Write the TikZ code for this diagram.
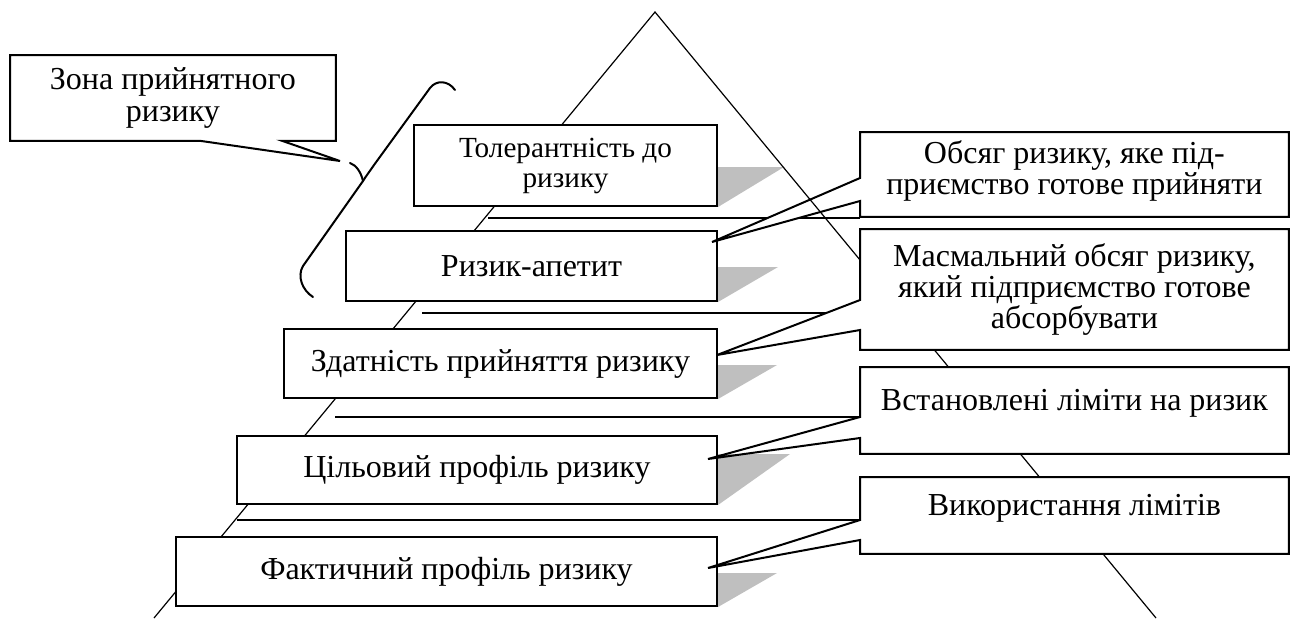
\documentclass[tikz,border=0pt]{standalone}
\usepackage{fontspec}
\setmainfont{Liberation Serif}
\usepackage{tikz}
\usetikzlibrary{calc}
\usetikzlibrary{backgrounds}
\usetikzlibrary{positioning}
\pgfdeclarelayer{lines}
\pgfdeclarelayer{pyramid}
\pgfsetlayers{lines,pyramid,main}

\begin{document}
\begin{tikzpicture}[x=0.5pt,y=-0.5pt]
    \tikzstyle{every node}=[font=\fontsize{16pt}{15.6pt}\selectfont,inner sep=0pt]
    \tikzstyle{lbox}=[draw=black,line width=1pt,fill=white,anchor=north west,align=center]
    \tikzstyle{rbox}=[fill=white,anchor=north west,align=center,minimum width=214pt]
    \tikzstyle{callout}=[draw=black,line width=1pt]
    \tikzstyle{level}=[draw=black,line width=0.8pt]
    \tikzstyle{edge}=[draw=black,line width=0.6pt]
    \tikzstyle{bracket}=[draw=black,line width=1pt,line cap=round]

    \useasboundingbox (0,0) rectangle (1295,618);

    \node[lbox,minimum width=151.5pt,minimum height=40.5pt,font=\fontsize{14.6pt}{15pt}\selectfont] (toler) at (413,124) {Толерантність до\\ризику};
    \node[lbox,minimum width=185.5pt,minimum height=35pt] (appetite) at (345,230) {Ризик-апетит};
    \node[lbox,minimum width=216.5pt,minimum height=34.5pt] (capacity) at (283,328) {Здатність прийняття ризику};
    \node[lbox,minimum width=240pt,minimum height=34pt] (target) at (236,435) {Цільовий профіль ризику};
    \node[lbox,minimum width=270.5pt,minimum height=34.5pt] (actual) at (175,536) {Фактичний профіль ризику};

    \node[rbox,minimum height=42pt,text height=30pt,text depth=10pt] (taken) at (860,132) {Обсяг ризику, яке під-\\приємство готове прийняти};
    \node[rbox,minimum height=60pt] (absorb) at (860,229) {Масмальний обсяг ризику,\\який підприємство готове\\абсорбувати};
    \node[rbox,minimum height=43pt,text height=8pt,text depth=8pt] (limits) at (860,367) {Встановлені ліміти на ризик};
    \node[rbox,minimum height=38pt,text height=8pt,text depth=8pt] (usage) at (860,477) {Використання лімітів};
    \node[rbox,minimum width=162.5pt,minimum height=42.5pt] (zone) at (10,55) {Зона прийнятного\\ризику};

    \coordinate (apex) at (655,12);
    \coordinate (tipT) at (712,242);
    \coordinate (tipA) at (717,355);
    \coordinate (tipL) at (708,459);
    \coordinate (tipU) at (708,568);
    \coordinate (tipZ) at (340,161);
    \coordinate (braceHi) at (455,90);
    \coordinate (braceMid) at (363,181);
    \coordinate (braceTip) at (350,163);
    \coordinate (braceLo) at (313,297);

    \newcommand{\boxshade}[3]{%
      \fill[black!25] (#1.south east) -- ++(0,-#2) -- ++(#3,0) -- cycle;}
    \newcommand{\rcallout}[4]{%
      \begin{pgfonlayer}{lines}
        \fill[white] (#1.west |- 0,#2) -- (#4) -- (#1.west |- 0,#3) -- cycle;
      \end{pgfonlayer}
      \draw[callout] (#1.west |- 0,#3) -- (#1.south west) -- (#1.south east) -- (#1.north east)
                     -- (#1.north west) -- (#1.west |- 0,#2) -- (#4) -- cycle;}

    \begin{pgfonlayer}{lines}
      \draw[level] (488,218) -- (taken.west |- 0,218);
      \draw[level] (422,313) -- (absorb.west |- 0,313);
      \draw[level] (335,417) -- (limits.west |- 0,417);
      \draw[level] (237,520) -- (usage.west |- 0,520);
    \end{pgfonlayer}

    \begin{pgfonlayer}{pyramid}
      \boxshade{toler}{40}{66}
      \boxshade{appetite}{35}{60}
      \boxshade{capacity}{34}{59}
      \boxshade{target}{51}{72}
      \boxshade{actual}{34}{59}
      \draw[edge] (154,618) -- (apex) -- (1156,618);
    \end{pgfonlayer}

    \rcallout{taken}{178}{201}{tipT}
    \rcallout{absorb}{300}{330}{tipA}
    \rcallout{limits}{417}{438}{tipL}
    \rcallout{usage}{520}{540}{tipU}

    \draw[callout] (zone.south west) -- (zone.north west) -- (zone.north east) -- (zone.south east)
                   -- (282,0 |- zone.south) -- (tipZ) -- (200,0 |- zone.south) -- cycle;

    \draw[bracket] (braceHi) .. controls (448,80) and (436,80) .. (430,88) -- (374,165)
                   .. controls (370,171) and (366,176) .. (braceMid) -- (303,266)
                   .. controls (297,276) and (302,290) .. (braceLo);
    \draw[bracket] (braceTip) .. controls (356,165) and (361,172) .. (braceMid);

  \end{tikzpicture}
\end{document}
